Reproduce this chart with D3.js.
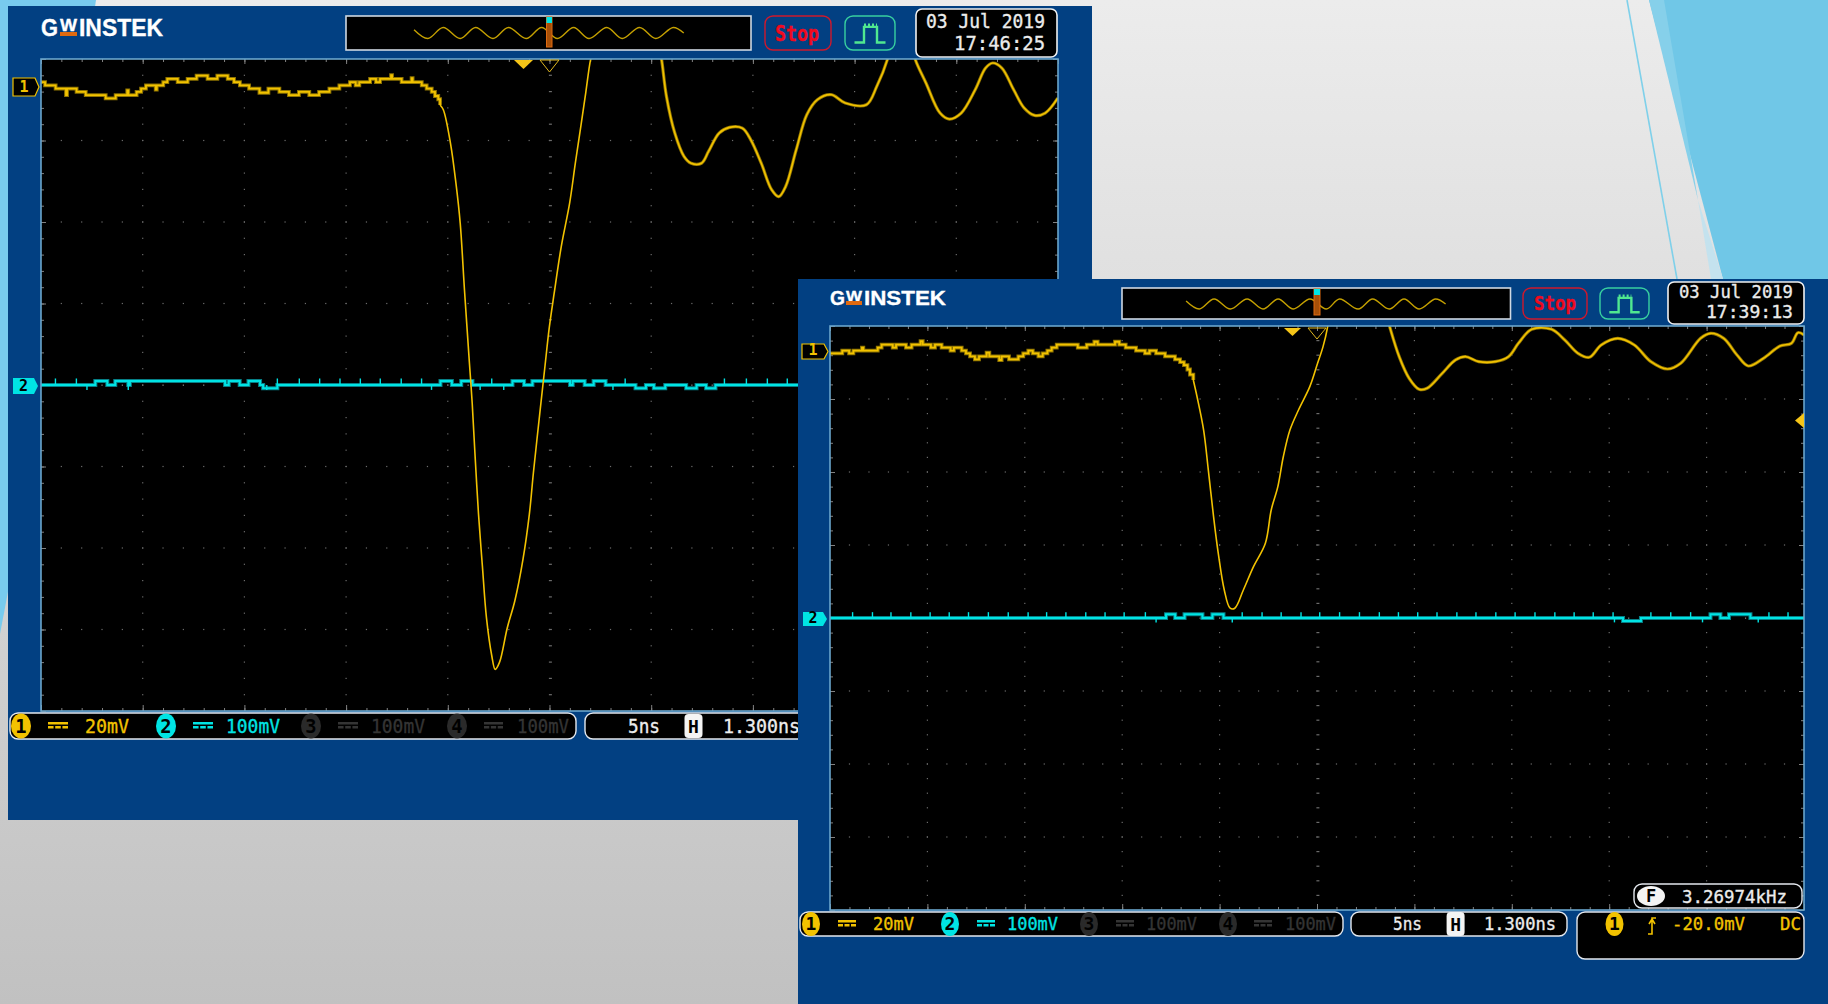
<!DOCTYPE html>
<html>
<head>
<meta charset="utf-8">
<style>
  html, body { margin: 0; padding: 0; background: #ddd; overflow: hidden; }
  svg { display: block; }
  text { font-family: "DejaVu Sans Mono", monospace; }
</style>
<script src="https://cdn.jsdelivr.net/npm/d3@7"></script>
</head>
<body>
<div id="scope"></div>
<script>
// values, time in ns, voltage in mV

// left screen, channel 1: quantised flat part before the drop
const s1StairTime = [-25,-24.80,-24.28,-23.77,-23.72,-23.25,-22.80,-21.82,-21.33,-20.76,-20.71,-20.30,-20.08,-19.84,-19.36,-19.31,-18.99,-18.79,-18.28,-17.79,-17.35,-16.81,-16.33,-15.82,-15.51,-15.22,-14.77,-14.26,-13.82,-13.28,-12.81,-12.32,-11.81,-11.33,-10.82,-10.33,-9.81,-9.53,-9.35,-8.82,-8.53,-8.33,-7.79,-7.74,-7.27,-6.78,-6.73,-6.28,-6.04,-5.79,-5.63,-5.47,-5.38];
const s1StairVolt = [1.2,0.4,-0.4,-2.0,-0.4,-1.2,-2.0,-2.8,-2.0,-0.8,-2.0,-1.2,-0.4,0.4,-0.6,0.4,1.2,2.0,1.2,2.0,2.8,2.0,2.8,2.0,1.2,0.4,-0.4,-1.4,-0.4,-1.2,-2.0,-1.2,-2.0,-1.2,-0.4,0.4,1.2,0.4,1.2,2.0,1.2,2.0,2.9,2.0,1.2,2.2,1.2,0.4,-0.4,-1.2,-2.2,-3.0,-4.4];
// left screen, channel 1: the drop and the ringing after it
const s1Ch1Time = [-5.38,-5.22,-4.87,-4.60,-4.39,-4.18,-3.94,-3.80,-3.67,-3.49,-3.30,-3.10,-2.84,-2.67,-2.46,-2.08,-1.70,-1.30,-0.99,-0.79,-0.48,-0.22,-0.01,0.23,0.58,0.99,1.27,1.54,1.78,2.02,2.16,5.40,5.51,5.75,6.16,6.61,6.96,7.47,7.82,8.34,8.85,9.48,9.89,10.41,10.92,11.27,11.61,12.13,12.65,13.17,13.85,14.54,15.58,16.09,16.61,16.72,17.89,17.99,18.51,19.20,19.65,20.24,20.93,21.44,21.79,22.24,22.82,23.34,23.85,24.37,24.99];
const s1Ch1Volt = [-4.4,-5.57,-13.76,-23.6,-33.4,-49.8,-67.5,-77.6,-89.5,-104.8,-117.5,-130.2,-139.5,-142.9,-141.2,-132.8,-126.0,-115.8,-104.8,-94.6,-80.2,-68.4,-59.0,-50.6,-39.1,-28.5,-18.7,-9.66,-1.47,6.72,9.17,9.17,6.72,-2.29,-11.3,-17.0,-18.7,-18.7,-15.8,-11.3,-9.9,-10.1,-12.9,-18.7,-25.2,-26.9,-24.4,-15.4,-6.8,-3.1,-1.88,-3.93,-4.34,0.16,6.72,9.17,9.17,6.72,0.98,-6.39,-7.86,-6.39,-0.66,4.67,5.90,4.67,-0.66,-5.16,-6.96,-6.39,-2.70];

// left screen, channel 2: level steps, then the one sample spikes up and down
const s1Ch2Time = [-25,-22.33,-21.74,-21.35,-20.71,-20.63,-15.95,-15.77,-15.23,-14.80,-14.23,-14.08,-13.38,-5.36,-4.80,-4.34,-3.79,-1.82,-1.25,-0.84,1.01,1.14,1.73,2.17,2.76,4.23,4.74,5.13,5.69,6.72,7.23,7.70,8.16,25];
const s1Ch2Volt = [0,5,0,5,0,5,0,5,0,5,0,-4,0,5,0,5,0,5,0,5,0,5,0,5,0,-4,0,-4,0,-4,0,-4,0,0];
const s1Ch2Up = [-24.29,-23.26,-13.38,-12.30,-11.30,-10.30,-9.30,-8.32,-7.29,-6.29,-2.84,3.72,8.60,9.68,10.71,11.69];
const s1Ch2Down = [-22.74,-20.71,-13.90,-5.80,-3.41,-2.25,3.12];

// right screen, channel 1: flat part
const s2StairTime = [-25,-24.37,-24.02,-23.80,-23.36,-23.29,-22.55,-22.35,-21.78,-21.61,-21.10,-20.81,-20.35,-20.24,-19.82,-19.61,-19.27,-18.81,-18.64,-18.24,-18.02,-17.81,-17.56,-17.35,-16.96,-16.82,-16.31,-16.19,-15.81,-15.33,-15.08,-14.82,-14.59,-14.30,-14.08,-13.84,-13.62,-13.36,-12.28,-11.82,-11.43,-11.26,-10.37,-10.15,-9.82,-9.29,-8.83,-8.60,-8.26,-7.80,-7.29,-7.03,-6.83,-6.65,-6.52,-6.35];
const s2StairVolt = [-0.4,0.4,-0.4,0.4,1.2,0.4,1.2,2.0,1.2,2.0,1.2,2.0,3.0,2.0,1.2,2.0,1.2,0.4,1.2,0.4,-0.4,-1.2,-2.0,-1.2,-0.2,-1.2,-2.2,-1.2,-2.0,-1.2,-0.4,0.4,-0.4,-1.2,-0.4,0.4,1.2,2.0,1.2,2.0,2.8,2.0,2.8,2.0,1.2,0.4,-0.4,0.4,-0.4,-1.2,-2.0,-2.8,-3.6,-4.8,-6.2,-7.67];
// right screen, channel 1: drop and ringing
const s2Ch1Time = [-6.35,-6.16,-5.82,-5.58,-5.31,-5.07,-4.76,-4.46,-4.22,-3.78,-3.26,-2.65,-2.35,-2.01,-1.73,-1.39,-0.95,-0.37,0.03,0.31,0.54,0.61,3.64,3.74,4.22,4.73,5.24,5.65,6.43,7.11,7.62,8.30,9.15,9.83,10.34,11.02,12.04,12.72,13.40,13.98,14.59,15.44,16.29,17.14,17.99,18.67,19.69,20.20,20.88,21.56,22.14,22.92,23.77,24.35,24.69,25.0];
const s2Ch1Volt = [-7.67,-12.2,-21.4,-32.3,-45.1,-55.1,-65.2,-70.2,-70.2,-65.2,-58.8,-52.4,-43.3,-36.9,-28.7,-21.4,-15.9,-9.5,-3.1,1.46,6.76,9.68,8.76,6.76,-1.28,-7.2,-10.2,-9.95,-5.84,-2.19,-1.28,-2.65,-2.65,-1.28,2.37,6.21,6.21,3.29,-0.37,-1.46,1.92,3.74,1.92,-2.65,-4.66,-3.1,3.74,5.11,3.74,-0.82,-3.83,-1.73,1.64,2.37,5.3,4.66];

// right screen, channel 2
const s2Ch2Time = [-25,-7.75,-7.28,-6.80,-5.88,-5.37,-4.80,15.71,16.63,20.20,20.71,21.15,22.25,25];
const s2Ch2Volt = [0,5,0,5,0,5,0,-4,0,5,0,5,0,0];
const s2Ch2Up = [-23.84,-22.82,-21.87,-20.85,-19.86,-18.88,-17.89,-16.87,-15.85,-14.83,-13.88,-12.89,-11.87,-10.88,-9.90,-8.81,-3.84,-2.82,-1.84,-0.82,0.14,1.16,2.18,3.20,4.18,5.17,6.16,7.18,8.16,9.18,10.17,11.19,12.21,13.20,14.18,15.20,17.14,18.16,19.18,23.20,24.18];
const s2Ch2Down = [-8.26,-4.35,15.27,19.79,22.65];

// small overview waveform in the memory bar, position as fraction of the bar
const s1MemPos = [0.168,0.202,0.240,0.282,0.320,0.363,0.401,0.445,0.483,0.522,0.562,0.600,0.644,0.682,0.725,0.765,0.808,0.834];
const s2MemPos = [0.165,0.199,0.237,0.279,0.322,0.363,0.402,0.441,0.484,0.526,0.560,0.608,0.645,0.688,0.726,0.765,0.807,0.833];
const memLevel = [0.6,-1,1,-1,1,-1,1,-1,1,-1,1,-1,1,-1,1,-1,1,0];

const spikeUp = 8;
const spikeDown = -6;

const YELLOW = "#f2c200";
const YELLOW_DIM = "#8f7400";
const CYAN = "#00e4e4";
const CYAN_DIM = "#067f86";
const FRAME = "#024082";
const OFF = "#343434";

const svgWidth = 1828;
const svgHeight = 1004;

const svg = d3.select("#scope")
  .append("svg")
  .attr("width", svgWidth)
  .attr("height", svgHeight);

// slide background
const defs = svg.append("defs");
const bgGrad = defs.append("linearGradient")
  .attr("id", "bg")
  .attr("x1", 0).attr("y1", 0).attr("x2", 0).attr("y2", 1);
bgGrad.append("stop").attr("offset", "0%").attr("stop-color", "#ececec");
bgGrad.append("stop").attr("offset", "100%").attr("stop-color", "#c1c1c1");

svg.append("rect")
  .attr("width", svgWidth)
  .attr("height", svgHeight)
  .attr("fill", "url(#bg)");

svg.append("path")
  .attr("d", "M0,0 L96,0 L14,560 L0,634 Z")
  .attr("fill", "#78cbee");
svg.append("path")
  .attr("d", "M1649,0 L1828,0 L1828,279 L1723,279 Z")
  .attr("fill", "#70c7e7");
svg.append("path")
  .attr("d", "M1649,0 L1664,0 L1698,200 Z")
  .attr("fill", "#86d0ea");
svg.append("path")
  .attr("d", "M1698,200 L1723,279 L1711,279 Z")
  .attr("fill", "#c4e2ee");
svg.append("path")
  .attr("d", "M1627,0 L1677,279")
  .attr("stroke", "#7fd0ea")
  .attr("stroke-width", 1.6)
  .attr("fill", "none");

let clipCount = 0;

function label(g, str, x1, x2, baseline, color, size, weight) {
  return g.append("text")
    .attr("x", x1)
    .attr("y", baseline)
    .attr("textLength", x2 - x1)
    .attr("lengthAdjust", "spacingAndGlyphs")
    .attr("fill", color)
    .attr("stroke", color)
    .attr("stroke-width", 0.35)
    .attr("font-size", size)
    .attr("font-weight", weight || "normal")
    .text(str);
}

function badge(g, str, cx, cy, rx, ry, fill, textFill, stroke) {
  g.append("ellipse")
    .attr("cx", cx).attr("cy", cy).attr("rx", rx).attr("ry", ry)
    .attr("fill", fill)
    .attr("stroke", stroke || "none");
  g.append("text")
    .attr("x", cx).attr("y", cy + ry * 0.52)
    .attr("text-anchor", "middle")
    .attr("font-size", ry * 1.5)
    .attr("font-weight", "bold")
    .attr("fill", textFill)
    .text(str);
}

function couplingMark(g, x1, x2, y, color) {
  g.append("rect")
    .attr("x", x1).attr("y", y).attr("width", x2 - x1).attr("height", 2.5)
    .attr("fill", color);
  const w = (x2 - x1) / 3.6;
  [0, 1, 2].forEach(i => {
    g.append("rect")
      .attr("x", x1 + i * w * 1.3).attr("y", y + 4).attr("width", w).attr("height", 2.5)
      .attr("fill", color);
  });
}

function drawScope(c) {
  const g = svg.append("g");

  g.append("rect")
    .attr("x", c.frame[0]).attr("y", c.frame[1])
    .attr("width", c.frame[2] - c.frame[0]).attr("height", c.frame[3] - c.frame[1])
    .attr("fill", FRAME);

  // logo, the W sits short on top of an orange bar
  const lg = c.logo;
  label(g, "G", lg.g1, lg.g2, lg.base, "#ffffff", lg.size, "bold").style("font-family", "'Liberation Sans'");
  label(g, "W", lg.w1, lg.w2, lg.wBase, "#ffffff", lg.size * 0.72, "bold").style("font-family", "'Liberation Sans'");
  label(g, "INSTEK", lg.i1, lg.i2, lg.base, "#ffffff", lg.size, "bold").style("font-family", "'Liberation Sans'");
  g.append("rect")
    .attr("x", lg.w1).attr("y", lg.base - 4)
    .attr("width", lg.w2 - lg.w1).attr("height", 4)
    .attr("fill", "#e06a10");

  // memory bar
  const mem = c.mem;
  g.append("rect")
    .attr("x", mem.x1).attr("y", mem.y1)
    .attr("width", mem.x2 - mem.x1).attr("height", mem.y2 - mem.y1)
    .attr("fill", "#000")
    .attr("stroke", "#cfd8e2")
    .attr("stroke-width", 1.6);

  const memX = d3.scaleLinear().domain([0, 1]).range([mem.x1, mem.x2]);
  const memY = d3.scaleLinear().domain([-1, 1]).range([mem.yc + mem.amp, mem.yc - mem.amp]);
  const memLine = d3.line()
    .x((d, i) => memX(c.memPos[i]))
    .y(d => memY(d))
    .curve(d3.curveCatmullRom);
  g.append("path")
    .attr("d", memLine(memLevel))
    .attr("fill", "none")
    .attr("stroke", "#c4a000")
    .attr("stroke-width", 1.4);
  g.append("rect")
    .attr("x", mem.mark[0]).attr("y", mem.mark[1])
    .attr("width", mem.mark[2]).attr("height", mem.mark[3])
    .attr("fill", "#a85008")
    .attr("stroke", "#e06a10");
  g.append("rect")
    .attr("x", mem.mark[0]).attr("y", mem.mark[1])
    .attr("width", mem.mark[2]).attr("height", 6)
    .attr("fill", CYAN);

  // stop and signal buttons
  const st = c.stop;
  g.append("rect")
    .attr("x", st.x1).attr("y", st.y1)
    .attr("width", st.x2 - st.x1).attr("height", st.y2 - st.y1)
    .attr("rx", 8)
    .attr("fill", FRAME)
    .attr("stroke", "#d0182c")
    .attr("stroke-width", 1.4);
  label(g, "Stop", st.tx1, st.tx2, st.base, "#f00a1e", st.size, "bold");

  const sg = c.signal;
  g.append("rect")
    .attr("x", sg.x1).attr("y", sg.y1)
    .attr("width", sg.x2 - sg.x1).attr("height", sg.y2 - sg.y1)
    .attr("rx", 8)
    .attr("fill", FRAME)
    .attr("stroke", "#38d0a0")
    .attr("stroke-width", 1.4);
  const w = sg.x2 - sg.x1;
  const top = sg.y1 + (sg.y2 - sg.y1) * 0.32;
  const bot = sg.y2 - (sg.y2 - sg.y1) * 0.22;
  g.append("path")
    .attr("d", `M${sg.x1 + w * 0.19},${bot} H${sg.x1 + w * 0.38} V${top} H${sg.x1 + w * 0.64} V${bot} H${sg.x1 + w * 0.81}`)
    .attr("fill", "none")
    .attr("stroke", "#50e890")
    .attr("stroke-width", 2.4);
  g.append("path")
    .attr("d", `M${sg.x1 + w * 0.38},${top - 2} H${sg.x1 + w * 0.64}`)
    .attr("fill", "none")
    .attr("stroke", "#50e890")
    .attr("stroke-width", 3)
    .attr("stroke-dasharray", "2 2");

  // date box
  const dt = c.date;
  g.append("rect")
    .attr("x", dt.x1).attr("y", dt.y1)
    .attr("width", dt.x2 - dt.x1).attr("height", dt.y2 - dt.y1)
    .attr("rx", 6)
    .attr("fill", "#000")
    .attr("stroke", "#f0f0f0")
    .attr("stroke-width", 1.6);
  label(g, c.dateText, dt.dx1, dt.tx2, dt.base1, "#ececec", dt.size);
  label(g, c.timeText, dt.tx1, dt.tx2, dt.base2, "#ececec", dt.size);

  // plot
  const p = c.plot;
  const xScale = d3.scaleLinear().domain([-25, 25]).range([p.x1, p.x2]);
  const yCh1 = d3.scaleLinear().domain(c.ch1Domain).range([p.y1, p.y2]);
  const yCh2 = d3.scaleLinear().domain([400, -400]).range([p.y1, p.y2]);
  // vertical position in screen divisions, for the graticule
  const yDiv = d3.scaleLinear().domain([-4, 4]).range([p.y2, p.y1]);

  g.append("rect")
    .attr("x", p.x1).attr("y", p.y1)
    .attr("width", p.x2 - p.x1).attr("height", p.y2 - p.y1)
    .attr("fill", "#000");

  const xMinor = d3.range(-25, 25.01, 1);
  const xMajor = d3.range(-25, 25.01, 5);
  const yMinor = d3.range(-4, 4.01, 0.2);
  const yMajor = d3.range(-4, 4.01, 1);

  const dots = g.append("g").attr("fill", "#6c6c6c");
  xMajor.slice(1, -1).forEach(t => {
    dots.selectAll(null)
      .data(yMinor.slice(1, -1))
      .enter()
      .append("rect")
      .attr("x", xScale(t) - 0.6)
      .attr("y", d => yDiv(d) - 0.6)
      .attr("width", t === 0 ? 3 : 1.2)
      .attr("height", 1.2);
  });
  yMajor.slice(1, -1).forEach(v => {
    dots.selectAll(null)
      .data(xMinor.slice(1, -1))
      .enter()
      .append("rect")
      .attr("x", d => xScale(d) - 0.6)
      .attr("y", yDiv(v) - 0.6)
      .attr("width", 1.2)
      .attr("height", v === 0 ? 1.6 : 1.2);
  });

  // border ticks
  const sides = [
    [d3.axisBottom(xScale), xMinor, 3, `translate(0,${p.y1})`],
    [d3.axisBottom(xScale), xMajor, 5, `translate(0,${p.y1})`],
    [d3.axisTop(xScale), xMinor, 3, `translate(0,${p.y2})`],
    [d3.axisTop(xScale), xMajor, 6, `translate(0,${p.y2})`],
    [d3.axisRight(yDiv), yMinor, 3, `translate(${p.x1},0)`],
    [d3.axisRight(yDiv), yMajor, 5, `translate(${p.x1},0)`],
    [d3.axisLeft(yDiv), yMinor, 3, `translate(${p.x2},0)`],
    [d3.axisLeft(yDiv), yMajor, 5, `translate(${p.x2},0)`]
  ];
  sides.forEach(s => {
    const axisG = g.append("g")
      .attr("transform", s[3])
      .call(s[0].tickValues(s[1]).tickFormat("").tickSize(s[2]).tickSizeOuter(0));
    axisG.select(".domain").remove();
    axisG.selectAll("line").attr("stroke", "#828282").attr("stroke-width", 1);
  });

  // traces
  const clipId = "clip" + (++clipCount);
  defs.append("clipPath").attr("id", clipId)
    .append("rect")
    .attr("x", p.x1).attr("y", p.y1)
    .attr("width", p.x2 - p.x1).attr("height", p.y2 - p.y1);
  const traces = g.append("g").attr("clip-path", `url(#${clipId})`);

  const ch2Line = d3.line()
    .x((d, i) => xScale(c.ch2Time[i]))
    .y(d => yCh2(d))
    .curve(d3.curveStepAfter);
  traces.append("path")
    .attr("d", ch2Line(c.ch2Volt))
    .attr("fill", "none")
    .attr("stroke", CYAN_DIM)
    .attr("stroke-width", 4);
  traces.append("path")
    .attr("d", ch2Line(c.ch2Volt))
    .attr("fill", "none")
    .attr("stroke", CYAN)
    .attr("stroke-width", 2);
  traces.selectAll(null)
    .data(c.ch2Up)
    .enter()
    .append("line")
    .attr("x1", d => xScale(d)).attr("x2", d => xScale(d))
    .attr("y1", yCh2(0)).attr("y2", yCh2(spikeUp))
    .attr("stroke", CYAN)
    .attr("stroke-width", 1.4);
  traces.selectAll(null)
    .data(c.ch2Down)
    .enter()
    .append("line")
    .attr("x1", d => xScale(d)).attr("x2", d => xScale(d))
    .attr("y1", yCh2(0)).attr("y2", yCh2(spikeDown))
    .attr("stroke", CYAN)
    .attr("stroke-width", 1.4);

  const stairLine = d3.line()
    .x((d, i) => xScale(c.stairTime[i]))
    .y(d => yCh1(d))
    .curve(d3.curveStepAfter);
  traces.append("path")
    .attr("d", stairLine(c.stairVolt))
    .attr("fill", "none")
    .attr("stroke", YELLOW_DIM)
    .attr("stroke-width", 3.8);
  traces.append("path")
    .attr("d", stairLine(c.stairVolt))
    .attr("fill", "none")
    .attr("stroke", YELLOW)
    .attr("stroke-width", 1.8);

  // the fast drop is drawn thin, only the ringing gets the dim fringe
  const waveLine = d3.line()
    .x((d, i) => xScale(c.ch1Time[i]))
    .y(d => yCh1(d))
    .curve(d3.curveCatmullRom);
  traces.append("path")
    .attr("d", waveLine.defined((d, i) => c.ch1Time[i] >= c.dropEnd)(c.ch1Volt))
    .attr("fill", "none")
    .attr("stroke", YELLOW_DIM)
    .attr("stroke-width", 3.2);
  traces.append("path")
    .attr("d", waveLine.defined(() => true)(c.ch1Volt))
    .attr("fill", "none")
    .attr("stroke", YELLOW)
    .attr("stroke-width", 1.6);

  // plot border
  g.append("rect")
    .attr("x", p.x1).attr("y", p.y1)
    .attr("width", p.x2 - p.x1).attr("height", p.y2 - p.y1)
    .attr("fill", "none")
    .attr("stroke", "#6aa6cc")
    .attr("stroke-width", 1.6);

  // trigger position markers on top edge
  const tr = c.trig;
  g.append("path")
    .attr("d", `M${tr[0]},${tr[2]} H${tr[1]} L${(tr[0] + tr[1]) / 2},${tr[3]} Z`)
    .attr("fill", "#f5c518");
  g.append("path")
    .attr("d", `M${tr[4]},${tr[2]} L${tr[5]},${tr[2]} L${(tr[4] + tr[5]) / 2},${tr[3] + 3} Z`)
    .attr("fill", "none")
    .attr("stroke", "#e0b820");

  // channel markers on left edge
  const m1 = c.mark1;
  g.append("path")
    .attr("d", `M${m1[0]},${m1[2]} H${m1[1] - 4} L${m1[1]},${(m1[2] + m1[3]) / 2} L${m1[1] - 4},${m1[3]} H${m1[0]} Z`)
    .attr("fill", "#000")
    .attr("stroke", YELLOW)
    .attr("stroke-width", 1.2);
  g.append("text")
    .attr("x", (m1[0] + m1[1]) / 2 - 2).attr("y", m1[3] - 4)
    .attr("text-anchor", "middle")
    .attr("font-size", 15)
    .attr("font-weight", "bold")
    .attr("fill", YELLOW)
    .text("1");
  const m2 = c.mark2;
  g.append("path")
    .attr("d", `M${m2[0]},${m2[2]} H${m2[1] - 4} L${m2[1]},${(m2[2] + m2[3]) / 2} L${m2[1] - 4},${m2[3]} H${m2[0]} Z`)
    .attr("fill", CYAN);
  g.append("text")
    .attr("x", (m2[0] + m2[1]) / 2 - 2).attr("y", m2[3] - 3)
    .attr("text-anchor", "middle")
    .attr("font-size", 15)
    .attr("font-weight", "bold")
    .attr("fill", "#000")
    .text("2");

  // bottom status bars
  const b = c.bar;
  g.append("rect")
    .attr("x", b.x1).attr("y", b.y1)
    .attr("width", b.x2 - b.x1).attr("height", b.y2 - b.y1)
    .attr("rx", 8)
    .attr("fill", "#000")
    .attr("stroke", "#e4e8ee")
    .attr("stroke-width", 1.4);
  b.channels.forEach(ch => {
    badge(g, ch.name, ch.cx, b.cy, b.rx, b.ry, ch.fill, ch.ink);
    couplingMark(g, ch.s1, ch.s2, b.cy - 4, ch.color);
    label(g, ch.volts, ch.t1, ch.t2, b.base, ch.color, b.size);
  });

  const tb = c.timebase;
  g.append("rect")
    .attr("x", tb.x1).attr("y", b.y1)
    .attr("width", tb.x2 - tb.x1).attr("height", b.y2 - b.y1)
    .attr("rx", 8)
    .attr("fill", "#000")
    .attr("stroke", "#e4e8ee")
    .attr("stroke-width", 1.4);
  label(g, "5ns", tb.a1, tb.a2, b.base, "#ececec", b.size);
  g.append("rect")
    .attr("x", tb.h - 9).attr("y", b.cy - 12)
    .attr("width", 18).attr("height", 24)
    .attr("rx", 4)
    .attr("fill", "#f4f4f4");
  g.append("text")
    .attr("x", tb.h).attr("y", b.cy + 7)
    .attr("text-anchor", "middle")
    .attr("font-size", 18)
    .attr("font-weight", "bold")
    .attr("fill", "#000")
    .text("H");
  label(g, "1.300ns", tb.b1, tb.b2, b.base, "#ececec", b.size);

  return g;
}

const s1 = drawScope({
  frame: [8, 6, 1092, 820],
  logo: { g1: 41, g2: 58, w1: 60, w2: 77, i1: 79, i2: 163, base: 36, wBase: 31, size: 24 },
  mem: { x1: 346, x2: 751, y1: 16, y2: 50, yc: 33, amp: 5.5, mark: [546.5, 17, 5.5, 30] },
  memPos: s1MemPos,
  stop: { x1: 765, x2: 831, y1: 16, y2: 50, tx1: 775, tx2: 819, base: 41, size: 21 },
  signal: { x1: 845, x2: 895, y1: 16, y2: 50 },
  date: { x1: 916, x2: 1057, y1: 9, y2: 57, dx1: 926, tx1: 954, tx2: 1045, base1: 28, base2: 50, size: 20 },
  dateText: "03 Jul 2019",
  timeText: "17:46:25",
  plot: { x1: 41, x2: 1058, y1: 59, y2: 711 },
  ch1Domain: [6.88, -153.12],
  stairTime: s1StairTime, stairVolt: s1StairVolt,
  ch1Time: s1Ch1Time, ch1Volt: s1Ch1Volt, dropEnd: 2.2,
  ch2Time: s1Ch2Time, ch2Volt: s1Ch2Volt, ch2Up: s1Ch2Up, ch2Down: s1Ch2Down,
  trig: [514, 533, 60, 69, 540, 559],
  mark1: [13, 39, 78, 96],
  mark2: [13, 38, 378, 394],
  bar: {
    x1: 10, x2: 576, y1: 713, y2: 739, cy: 726, rx: 10, ry: 12.5, base: 732.5, size: 20,
    channels: [
      { name: "1", cx: 21, s1: 48, s2: 68, t1: 85, t2: 129, volts: "20mV", color: YELLOW, fill: YELLOW, ink: "#000" },
      { name: "2", cx: 166, s1: 193, s2: 213, t1: 226, t2: 280, volts: "100mV", color: CYAN, fill: CYAN, ink: "#000" },
      { name: "3", cx: 311, s1: 338, s2: 358, t1: 371, t2: 425, volts: "100mV", color: OFF, fill: "#2a2a2a", ink: "#000" },
      { name: "4", cx: 457, s1: 484, s2: 503, t1: 517, t2: 569, volts: "100mV", color: OFF, fill: "#2a2a2a", ink: "#000" }
    ]
  },
  timebase: { x1: 585, x2: 830, a1: 628, a2: 660, h: 693.5, b1: 723, b2: 800 }
});

const s2 = drawScope({
  frame: [798, 279, 1828, 1004],
  logo: { g1: 830, g2: 845, w1: 846, w2: 862, i1: 864, i2: 946, base: 305, wBase: 300.5, size: 21 },
  mem: { x1: 1122, x2: 1510.5, y1: 288, y2: 319, yc: 304, amp: 5, mark: [1314, 289, 6, 26] },
  memPos: s2MemPos,
  stop: { x1: 1523, x2: 1587, y1: 288, y2: 319, tx1: 1534, tx2: 1576, base: 309.5, size: 20 },
  signal: { x1: 1600, x2: 1649, y1: 288, y2: 319 },
  date: { x1: 1668, x2: 1804, y1: 282, y2: 324, dx1: 1679, tx1: 1706, tx2: 1793, base1: 298, base2: 318, size: 18.5 },
  dateText: "03 Jul 2019",
  timeText: "17:39:13",
  plot: { x1: 830, x2: 1804, y1: 326, y2: 910 },
  ch1Domain: [7.12, -152.88],
  stairTime: s2StairTime, stairVolt: s2StairVolt,
  ch1Time: s2Ch1Time, ch1Volt: s2Ch1Volt, dropEnd: 0.7,
  ch2Time: s2Ch2Time, ch2Volt: s2Ch2Volt, ch2Up: s2Ch2Up, ch2Down: s2Ch2Down,
  trig: [1284, 1301, 328, 336, 1308, 1326],
  mark1: [802, 828, 344, 359],
  mark2: [803, 827, 612, 626],
  bar: {
    x1: 800, x2: 1343, y1: 912, y2: 936, cy: 924, rx: 9, ry: 12, base: 930, size: 18.5,
    channels: [
      { name: "1", cx: 811, s1: 838, s2: 856, t1: 873, t2: 914, volts: "20mV", color: YELLOW, fill: YELLOW, ink: "#000" },
      { name: "2", cx: 950, s1: 977, s2: 995, t1: 1007, t2: 1058, volts: "100mV", color: CYAN, fill: CYAN, ink: "#000" },
      { name: "3", cx: 1089, s1: 1116, s2: 1134, t1: 1146, t2: 1197, volts: "100mV", color: OFF, fill: "#2a2a2a", ink: "#000" },
      { name: "4", cx: 1228, s1: 1254, s2: 1272, t1: 1285, t2: 1336, volts: "100mV", color: OFF, fill: "#2a2a2a", ink: "#000" }
    ]
  },
  timebase: { x1: 1351, x2: 1567, a1: 1393, a2: 1422, h: 1455.6, b1: 1484, b2: 1556 }
});

// trigger level marker, frequency box and trigger box exist on the right screen only
s2.append("path")
  .attr("d", "M1804,413 V428 L1795,420.5 Z")
  .attr("fill", "#f5c518");

s2.append("rect")
  .attr("x", 1634).attr("y", 884)
  .attr("width", 168).attr("height", 24)
  .attr("rx", 8)
  .attr("fill", "#000")
  .attr("stroke", "#e4e8ee")
  .attr("stroke-width", 1.4);
s2.append("ellipse")
  .attr("cx", 1651).attr("cy", 896).attr("rx", 14).attr("ry", 10)
  .attr("fill", "#f4f4f4");
s2.append("text")
  .attr("x", 1651).attr("y", 902)
  .attr("text-anchor", "middle")
  .attr("font-size", 17)
  .attr("font-weight", "bold")
  .attr("fill", "#000")
  .text("F");
label(s2, "3.26974kHz", 1682, 1787, 902.5, "#ececec", 18.5);

s2.append("rect")
  .attr("x", 1577).attr("y", 912)
  .attr("width", 227).attr("height", 47)
  .attr("rx", 8)
  .attr("fill", "#000")
  .attr("stroke", "#e4e8ee")
  .attr("stroke-width", 1.4);
badge(s2, "1", 1614.5, 924, 9, 12, YELLOW, "#000");
s2.append("path")
  .attr("d", "M1648,934 H1652 V918 H1656 M1649,924 L1652,919 L1655,924")
  .attr("fill", "none")
  .attr("stroke", YELLOW)
  .attr("stroke-width", 1.6);
label(s2, "-20.0mV", 1672, 1745, 930, YELLOW, 18.5);
label(s2, "DC", 1780, 1801, 930, YELLOW, 18.5);
</script>
</body>
</html>
